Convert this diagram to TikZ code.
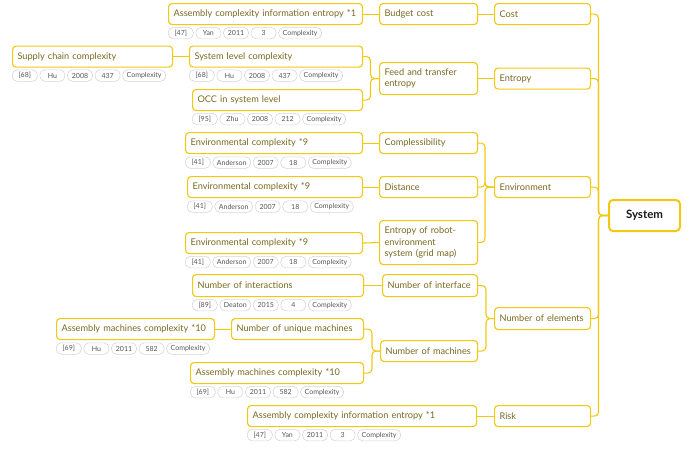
\documentclass[tikz,border=0pt]{standalone}
\usepackage{fontspec}
\setmainfont{Lato}
\usetikzlibrary{positioning}
\definecolor{gold}{HTML}{F2C811}
\definecolor{olive}{HTML}{7A6920}
\definecolor{pillline}{HTML}{D6D6D6}
\definecolor{pilltext}{HTML}{555555}
\tikzset{
  box/.style={draw=gold, line width=1.1pt, rounded corners=3.5pt, fill=white,
    inner xsep=5pt, inner ysep=0pt, align=left, anchor=north west,
    text=olive, font=\fontsize{9.2}{11.5}\selectfont},
  rootbox/.style={draw=gold, line width=2pt, rounded corners=4pt, fill=white,
    anchor=north west, inner sep=0pt, text=black!90,
    font=\fontsize{11.5}{13}\selectfont\bfseries},
  tagpill/.style={draw=pillline, line width=0.6pt, rounded corners=5pt,
    minimum width=25pt, minimum height=11.5pt, inner xsep=4pt, inner ysep=0pt,
    text=pilltext, font=\fontsize{7}{8}\selectfont},
  conn/.style={draw=gold, line width=1.1pt, rounded corners=4pt},
}
% a row of reference pills: prefix, top-left corner, five labels
\newcommand\tagrow[7]{%
  \node[tagpill, anchor=north west] (#1a) at (#2) {#3};
  \node[tagpill, right=2pt of #1a] (#1b) {#4};
  \node[tagpill, right=2pt of #1b] (#1c) {#5};
  \node[tagpill, right=2pt of #1c] (#1d) {#6};
  \node[tagpill, right=2pt of #1d] (#1e) {#7};
}
\begin{document}
\begin{tikzpicture}[x=1pt, y=-1pt]
\useasboundingbox (0,0) rectangle (695,450);

% root
\node[rootbox, minimum width=71pt, minimum height=31pt] (system) at (608,199) {System};

% first level
\node[box, text width=86pt, minimum height=21pt] (cost) at (494,3) {Cost};
\node[box, text width=86pt, minimum height=21pt] (entropy) at (494,67.5) {Entropy};
\node[box, text width=86pt, minimum height=21pt] (environment) at (494,176) {Environment};
\node[box, text width=86pt, minimum height=22pt] (elements) at (494,307) {Number of elements};
\node[box, text width=86pt, minimum height=21pt] (risk) at (494,405) {Risk};

% second level
\node[box, text width=88pt, minimum height=32pt] (feed) at (379,62) {Feed and transfer\\entropy};
\node[box, text width=88pt, minimum height=21pt] (budget) at (379,3) {Budget cost};
\node[box, text width=88pt, minimum height=21pt] (compl) at (379,132) {Complessibility};
\node[box, text width=88pt, minimum height=21pt] (dist) at (379,176) {Distance};
\node[box, text width=88pt, minimum height=44pt] (robot) at (379,220) {Entropy of robot-\\environment\\system (grid map)};
\node[box, text width=85pt, minimum height=22pt] (interface) at (382,274) {Number of interface};
\node[box, text width=87pt, minimum height=21pt] (machines) at (380,340) {Number of machines};

% third level
\node[box, text width=184pt, minimum height=21pt] (asmA) at (168,3) {Assembly complexity information entropy *1};
\node[box, text width=163pt, minimum height=21pt] (syslev) at (189,45.5) {System level complexity};
\node[box, text width=160pt, minimum height=21pt] (occ) at (192,89) {OCC in system level};
\node[box, text width=167pt, minimum height=21pt] (envA) at (185,132) {Environmental complexity *9};
\node[box, text width=165pt, minimum height=21pt] (envB) at (187,176) {Environmental complexity *9};
\node[box, text width=167pt, minimum height=21pt] (envC) at (185,232) {Environmental complexity *9};
\node[box, text width=161pt, minimum height=22pt] (interact) at (192,274) {Number of interactions};
\node[box, text width=122pt, minimum height=21pt] (unique) at (231,318) {Number of unique machines};
\node[box, text width=163pt, minimum height=21pt] (asmmB) at (190,362) {Assembly machines complexity *10};
\node[box, text width=219pt, minimum height=21pt] (asmB) at (247,405) {Assembly complexity information entropy *1};

% fourth level
\node[box, text width=150pt, minimum height=21pt] (supply) at (12,45.5) {Supply chain complexity};
\node[box, text width=148pt, minimum height=21pt] (asmmA) at (56,318) {Assembly machines complexity *10};

% reference pills
\tagrow{pA}{168,27}{[47]}{Yan}{2011}{3}{Complexity}
\tagrow{pB}{12,69.5}{[68]}{Hu}{2008}{437}{Complexity}
\tagrow{pC}{189,69.5}{[68]}{Hu}{2008}{437}{Complexity}
\tagrow{pD}{192,113}{[95]}{Zhu}{2008}{212}{Complexity}
\tagrow{pE}{185,156.5}{[41]}{Anderson}{2007}{18}{Complexity}
\tagrow{pF}{187,200.5}{[41]}{Anderson}{2007}{18}{Complexity}
\tagrow{pG}{185,256}{[41]}{Anderson}{2007}{18}{Complexity}
\tagrow{pH}{192,299}{[89]}{Deaton}{2015}{4}{Complexity}
\tagrow{pI}{56,342.5}{[69]}{Hu}{2011}{582}{Complexity}
\tagrow{pJ}{190,386}{[69]}{Hu}{2011}{582}{Complexity}
\tagrow{pK}{247,429}{[47]}{Yan}{2011}{3}{Complexity}

% connectors: root to first level
\draw[conn] (system.west) -- ++(-9.5,0) |- (cost.east);
\draw[conn] (system.west) -- ++(-9.5,0) |- (entropy.east);
\draw[conn] (system.west) -- ++(-9.5,0) |- (environment.east);
\draw[conn] (system.west) -- ++(-9.5,0) |- (elements.east);
\draw[conn] (system.west) -- ++(-9.5,0) |- (risk.east);

% first level to second level
\draw[conn] (budget.east) -- (cost.west);
\draw[conn] (feed.east) -- (entropy.west);
\draw[conn] (environment.west) -- ++(-9,0) |- (compl.east);
\draw[conn] (environment.west) -- ++(-9,0) |- (dist.east);
\draw[conn] (environment.west) -- ++(-9,0) |- (robot.east);
\draw[conn] (elements.west) -- ++(-8,0) |- (interface.east);
\draw[conn] (elements.west) -- ++(-8,0) |- (machines.east);
\draw[conn] (asmB.east) -- (risk.west);

% second level to third level
\draw[conn] (asmA.east) -- (budget.west);
\draw[conn] (feed.west) -- ++(-8.5,0) |- (syslev.east);
\draw[conn] (feed.west) -- ++(-8.5,0) |- (occ.east);
\draw[conn] (envA.east) -- (compl.west);
\draw[conn] (envB.east) -- (dist.west);
\draw[conn] (envC.east) -- (robot.west);
\draw[conn] (interact.east) -- (interface.west);
\draw[conn] (machines.west) -- ++(-8,0) |- (unique.east);
\draw[conn] (machines.west) -- ++(-8,0) |- (asmmB.east);

% third level to fourth level
\draw[conn] (supply.east) -- (syslev.west);
\draw[conn] (asmmA.east) -- (unique.west);
\end{tikzpicture}
\end{document}
